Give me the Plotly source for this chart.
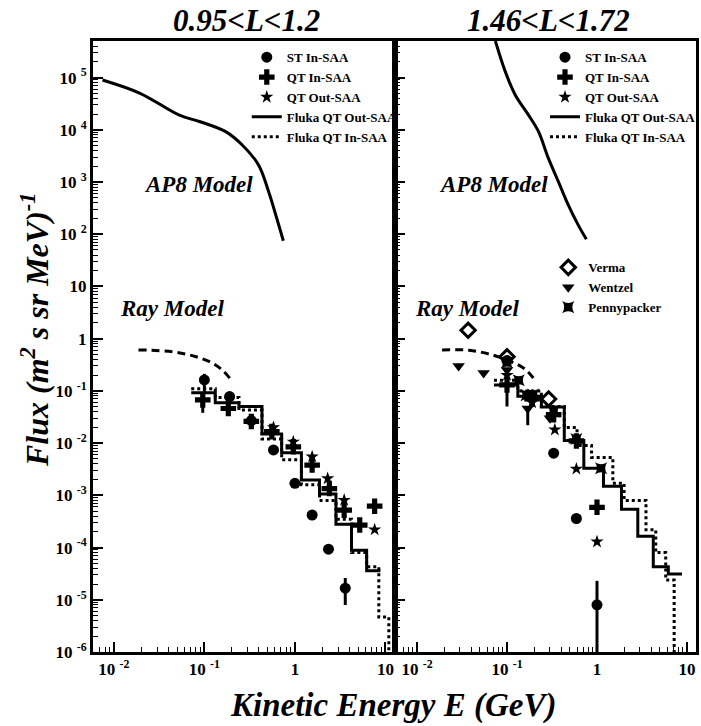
import plotly.graph_objects as go

# ---------------- data: left panel (0.95<L<1.2) ----------------
L_ap8_E = [0.0075, 0.0195, 0.053, 0.088, 0.172, 0.262, 0.398, 0.512, 0.63, 0.745]
L_ap8_F = [9.0e4, 5.0e4, 1.9e4, 1.44e4, 9.2e3, 5.1e3, 2.1e3, 655, 202, 75]
L_ray_E = [0.0187, 0.045, 0.081, 0.123, 0.158, 0.195]
L_ray_F = [0.61, 0.56, 0.45, 0.34, 0.25, 0.167]

L_st_E = [0.10, 0.19, 0.33, 0.58, 1.0, 1.55, 2.35, 3.6]
L_st_F = [0.162, 0.078, 0.027, 0.0074, 0.0017, 4.2e-4, 9.3e-5, 1.67e-5]
L_st_up = [0.05, 0, 0, 0, 0, 0, 0, 0.93e-5]
L_st_dn = [0.07, 0, 0, 0, 0, 0, 0, 0.88e-5]

L_qi_E = [0.096, 0.184, 0.33, 0.556, 0.96, 1.55, 2.4, 3.5, 5.2, 7.6]
L_qi_F = [0.067, 0.046, 0.026, 0.0166, 0.0085, 0.0038, 1.35e-3, 5.2e-4, 2.7e-4, 6.2e-4]
L_qi_up = [0.024, 0, 0, 0, 0, 0, 0, 0, 0, 0]
L_qi_dn = [0.029, 0, 0, 0, 0, 0, 0, 0, 0, 0]

L_qo_E = [0.58, 0.96, 1.55, 2.3, 3.5, 7.6]
L_qo_F = [0.020, 0.0106, 0.0055, 2.1e-3, 8.1e-4, 2.2e-4]

L_fo_edges = [0.0716, 0.132, 0.241, 0.433, 0.714, 1.18, 1.87, 2.84, 4.22, 6.2, 8.8]
L_fo_F = [0.0925, 0.0594, 0.050, 0.0149, 0.00655, 0.00196, 0.00106, 2.78e-4, 8.9e-5, 3.6e-5]
L_fi_edges = [0.0716, 0.132, 0.241, 0.433, 0.714, 1.18, 1.87, 2.84, 4.22, 6.2, 8.45, 10.9]
L_fi_F = [0.11, 0.075, 0.043, 0.012, 0.0048, 0.0016, 8e-4, 3.5e-4, 8e-5, 4.3e-5, 4.7e-6]

# ---------------- data: right panel (1.46<L<1.72) ----------------
R_ap8_E = [0.0743, 0.0957, 0.1235, 0.173, 0.224, 0.288, 0.372, 0.479, 0.617, 0.762]
R_ap8_F = [5.0e5, 1.3e5, 4.65e4, 1.93e4, 9.2e3, 2.86e3, 1.02e3, 364, 151, 80]
R_ray_E = [0.019, 0.038, 0.068, 0.113, 0.159, 0.205]
R_ray_F = [0.61, 0.60, 0.49, 0.36, 0.26, 0.16]

R_st_E = [0.10, 0.19, 0.33, 0.59, 1.0]
R_st_F = [0.38, 0.08, 0.0064, 3.6e-4, 8e-6]
R_st_up = [0, 0, 0, 0, 1.5e-5]
R_st_dn = [0, 0, 0, 0, 7.9e-6]

R_qi_E = [0.10, 0.19, 0.33, 0.59, 1.0]
R_qi_F = [0.13, 0.07, 0.035, 0.011, 5.9e-4]
R_qi_up = [0.1, 0, 0, 0, 0]
R_qi_dn = [0.08, 0, 0, 0, 0]

R_qo_E = [0.10, 0.19, 0.34, 0.59, 1.0]
R_qo_F = [0.2, 0.06, 0.018, 0.0032, 1.29e-4]

R_ve_E = [0.037, 0.10, 0.29]
R_ve_F = [1.45, 0.45, 0.07]
R_we_E = [0.029, 0.055, 0.10, 0.17, 0.30]
R_we_F = [0.30, 0.22, 0.25, 0.046, 0.03]
R_we_dn = [0, 0, 0, 0.024, 0]
R_pe_E = [0.10, 0.135, 0.165, 0.195, 0.33, 0.59, 1.11]
R_pe_F = [0.35, 0.16, 0.083, 0.085, 0.04, 0.012, 0.0033]

R_fo_edges = [0.0716, 0.132, 0.241, 0.433, 0.714, 1.18, 1.87, 2.84, 4.22, 6.2, 8.8]
R_fo_F = [0.13, 0.079, 0.049, 0.0112, 0.0033, 0.0015, 5.4e-4, 1.65e-4, 4.3e-5, 3.1e-5]
R_fi_edges = [0.0716, 0.132, 0.241, 0.433, 0.6, 0.87, 1.5, 2.0, 3.5, 4.5, 5.8, 7.2]
R_fi_F = [0.16, 0.10, 0.05, 0.02, 0.009, 0.0053, 1.7e-3, 8e-4, 2.2e-4, 8e-5, 2.4e-5]

Y_FLOOR = 1e-6
tick_exps = list(range(-6, 6))
x_exps = [-2, -1, 0, 1]


def plabel(p):
    if p == 0:
        return "1"
    if p == 1:
        return "10"
    return "10 <sup>%d</sup>" % p


SERIF = "Liberation Serif"
fig = go.Figure()


def step_xy(edges, levels, drop_to_floor):
    xs = list(edges)
    ys = list(levels) + [levels[-1]]
    if drop_to_floor:
        xs = xs + [edges[-1]]
        ys = ys + [Y_FLOOR]
    return xs, ys


def add_panel(sfx, legend_name, ap8E, ap8F, rayE, rayF, stE, stF, stU, stD,
              qiE, qiF, qiU, qiD, qoE, qoF, foE, foF, fiE, fiF, fi_floor):
    xa, ya = "x" + sfx, "y" + sfx
    fig.add_trace(go.Scatter(x=ap8E, y=ap8F, mode="lines", line=dict(color="black", width=3, shape="spline"),
                             showlegend=False, xaxis=xa, yaxis=ya))
    fig.add_trace(go.Scatter(x=rayE, y=rayF, mode="lines",
                             line=dict(color="black", width=3, dash="8px,5px", shape="spline"),
                             showlegend=False, xaxis=xa, yaxis=ya))
    fx, fy = step_xy(fiE, fiF, fi_floor)
    fig.add_trace(go.Scatter(x=fx, y=fy, mode="lines", line=dict(color="black", width=3, dash="dot", shape="hv"),
                             name="Fluka QT In-SAA", legend=legend_name, xaxis=xa, yaxis=ya, legendrank=5))
    ox, oy = step_xy(foE, foF, False)
    fig.add_trace(go.Scatter(x=ox, y=oy, mode="lines", line=dict(color="black", width=3, shape="hv"),
                             name="Fluka QT Out-SAA", legend=legend_name, xaxis=xa, yaxis=ya, legendrank=4))
    fig.add_trace(go.Scatter(x=stE, y=stF, mode="markers", marker=dict(symbol="circle", size=11, color="black"),
                             error_y=dict(type="data", symmetric=False, array=stU, arrayminus=stD,
                                          color="black", thickness=3, width=0),
                             name="ST In-SAA", legend=legend_name, xaxis=xa, yaxis=ya, legendrank=1))
    fig.add_trace(go.Scatter(x=qiE, y=qiF, mode="markers",
                             marker=dict(symbol="cross", size=13, color="black"),
                             error_y=dict(type="data", symmetric=False, array=qiU, arrayminus=qiD,
                                          color="black", thickness=3, width=0),
                             name="QT In-SAA", legend=legend_name, xaxis=xa, yaxis=ya, legendrank=2))
    fig.add_trace(go.Scatter(x=qoE, y=qoF, mode="markers", marker=dict(symbol="star", size=10, color="black"),
                             name="QT Out-SAA", legend=legend_name, xaxis=xa, yaxis=ya, legendrank=3))


add_panel("", "legend", L_ap8_E, L_ap8_F, L_ray_E, L_ray_F, L_st_E, L_st_F, L_st_up, L_st_dn,
          L_qi_E, L_qi_F, L_qi_up, L_qi_dn, L_qo_E, L_qo_F, L_fo_edges, L_fo_F, L_fi_edges, L_fi_F, True)
add_panel("2", "legend2", R_ap8_E, R_ap8_F, R_ray_E, R_ray_F, R_st_E, R_st_F, R_st_up, R_st_dn,
          R_qi_E, R_qi_F, R_qi_up, R_qi_dn, R_qo_E, R_qo_F, R_fo_edges, R_fo_F, R_fi_edges, R_fi_F, True)

fig.add_trace(go.Scatter(x=R_ve_E, y=R_ve_F, mode="markers",
                         marker=dict(symbol="diamond-open", size=11, color="black", line=dict(width=3)),
                         name="Verma", legend="legend3", xaxis="x2", yaxis="y2", legendrank=1))
fig.add_trace(go.Scatter(x=R_we_E, y=R_we_F, mode="markers",
                         marker=dict(symbol="triangle-down", size=11, color="black"),
                         error_y=dict(type="data", symmetric=False, array=[0] * len(R_we_E), arrayminus=R_we_dn,
                                      color="black", thickness=3, width=0),
                         name="Wentzel", legend="legend3", xaxis="x2", yaxis="y2", legendrank=2))
fig.add_trace(go.Scatter(x=R_pe_E, y=R_pe_F, mode="markers",
                         marker=dict(symbol="star-square", size=11, color="black"),
                         name="Pennypacker", legend="legend3", xaxis="x2", yaxis="y2", legendrank=3))

YR = [-6, 5.7]
axis_common = dict(type="log", showline=True, linewidth=3, linecolor="black", mirror=True,
                   ticks="inside", ticklen=10, tickwidth=1.5, tickcolor="black", showgrid=False,
                   zeroline=False,
                   minor=dict(ticks="inside", ticklen=5, tickwidth=1, tickcolor="black", dtick="D1", showgrid=False),
                   tickfont=dict(family=SERIF, size=17, color="black", weight="bold"))
xt = dict(tickmode="array", tickvals=[10 ** p for p in x_exps], ticktext=[plabel(p) for p in x_exps],
          **axis_common)
yt = dict(tickmode="array", tickvals=[10 ** p for p in tick_exps], ticktext=[plabel(p) for p in tick_exps],
          range=YR, **axis_common)

fig.update_layout(
    width=701, height=726,
    margin=dict(l=93, r=0, t=41, b=74),
    paper_bgcolor="white", plot_bgcolor="white",
    xaxis=dict(domain=[0, 0.5], anchor="y", range=[-2.23, 1.1], **xt),
    xaxis2=dict(domain=[0.5, 1], anchor="y2", range=[-2.25, 1.1], **xt),
    yaxis=dict(anchor="x", **yt),
    yaxis2=dict(anchor="x2", **yt),
)
fig.layout.yaxis2.showticklabels = False

legfont = dict(family=SERIF, size=13, color="black", weight="bold")
fig.update_layout(
    legend=dict(x=0.255, y=0.998, xanchor="left", yanchor="top", font=legfont, bgcolor="rgba(0,0,0,0)",
                tracegroupgap=0, itemwidth=30, traceorder="normal"),
    legend2=dict(x=0.75, y=0.998, xanchor="left", yanchor="top", font=legfont, bgcolor="rgba(0,0,0,0)",
                 tracegroupgap=0, itemwidth=30, traceorder="normal"),
    legend3=dict(x=0.755, y=0.654, xanchor="left", yanchor="top", font=legfont, bgcolor="rgba(0,0,0,0)",
                 tracegroupgap=0, itemwidth=30, traceorder="normal"),
)

big = dict(family=SERIF, color="black")
ann = [
    dict(text="<b><i>0.95&lt;L&lt;1.2</i></b>", x=0.255, y=1.0, xref="paper", yref="paper", yshift=21,
         xanchor="center", yanchor="middle", showarrow=False, font=dict(size=31, **big)),
    dict(text="<b><i>1.46&lt;L&lt;1.72</i></b>", x=0.755, y=1.0, xref="paper", yref="paper", yshift=21,
         xanchor="center", yanchor="middle", showarrow=False, font=dict(size=31, **big)),
    dict(text="<b><i>Kinetic Energy E (GeV)</i></b>", x=0.497, y=0, xref="paper", yref="paper", yshift=-53,
         xanchor="center", yanchor="middle", showarrow=False, font=dict(size=33, **big)),
    dict(text="<b><i>Flux (m<sup>2</sup> s sr MeV)<sup>-1</sup></i></b>", x=0, y=0.527, xref="paper",
         yref="paper", xshift=-58, xanchor="center", yanchor="middle", textangle=-90, showarrow=False,
         font=dict(size=32, **big)),
    dict(text="<b><i>AP8 Model</i></b>", x=-1.065, y=2.96, xref="x", yref="y", showarrow=False,
         xanchor="center", yanchor="middle", font=dict(size=23, **big)),
    dict(text="<b><i>AP8 Model</i></b>", x=-1.154, y=2.96, xref="x2", yref="y2", showarrow=False,
         xanchor="center", yanchor="middle", font=dict(size=23, **big)),
    dict(text="<b><i>Ray Model</i></b>", x=-1.36, y=0.57, xref="x", yref="y", showarrow=False,
         xanchor="center", yanchor="middle", font=dict(size=23, **big)),
    dict(text="<b><i>Ray Model</i></b>", x=-1.45, y=0.57, xref="x2", yref="y2", showarrow=False,
         xanchor="center", yanchor="middle", font=dict(size=23, **big)),
]
fig.update_layout(annotations=ann)

fig.write_html("out.html")
